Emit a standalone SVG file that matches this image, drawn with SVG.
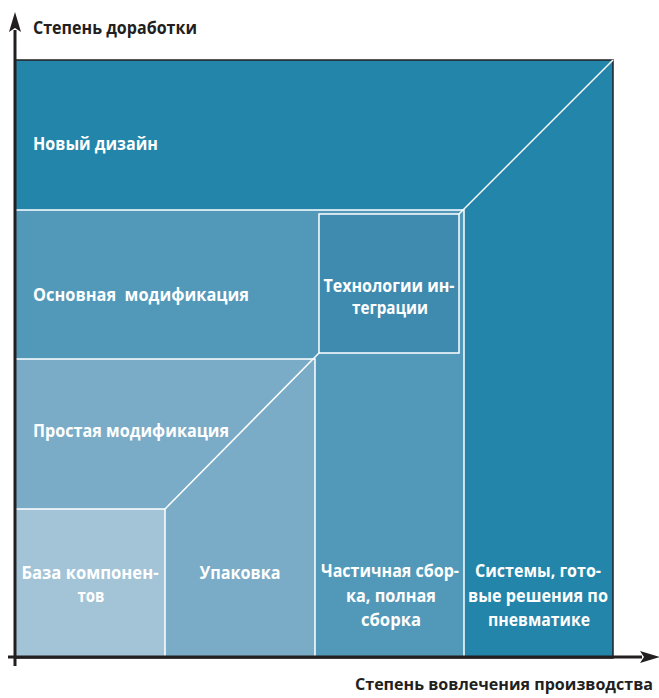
<svg xmlns="http://www.w3.org/2000/svg" width="659" height="698" viewBox="0 0 659 698">
<style>
.lbl{font-family:"Open Sans","Noto Sans","Liberation Sans",sans-serif;font-weight:bold;font-size:17px;fill:#ffffff}
.ax{font-family:"Open Sans","Noto Sans","Liberation Sans",sans-serif;font-weight:bold;font-size:17px;fill:#231f20}
.wl{stroke:#ffffff;stroke-width:1.5;fill:none}
.axis{stroke:#231f20;stroke-width:3;fill:none}
</style>
<defs>
<marker id="arr" viewBox="0 0 20 12" refX="2" refY="6" markerWidth="20" markerHeight="12" markerUnits="userSpaceOnUse" orient="auto">
<path d="M20,6 L0,0 L4,6 L0,12 Z" fill="#231f20"/>
</marker>
</defs>
<rect width="659" height="698" fill="#ffffff"/>

<g id="node-new-design">
<rect x="15" y="60" width="598" height="598" fill="#2385a9" stroke="#231f20" stroke-width="1.5"/>
<text class="lbl" x="33" y="150" textLength="125" lengthAdjust="spacingAndGlyphs">Новый дизайн</text>
</g>

<g id="node-systems">
<text class="lbl" x="538" y="577" text-anchor="middle" textLength="126" lengthAdjust="spacingAndGlyphs">Системы, гото-</text>
<text class="lbl" x="538" y="602" text-anchor="middle" textLength="140" lengthAdjust="spacingAndGlyphs">вые решения по</text>
<text class="lbl" x="539" y="626" text-anchor="middle" textLength="102" lengthAdjust="spacingAndGlyphs">пневматике</text>
</g>

<g id="node-main-mod">
<rect x="15" y="210" width="449" height="448" fill="#5299b9"/>
<text class="lbl" x="33" y="301" textLength="216" lengthAdjust="spacingAndGlyphs">Основная&#160; модификация</text>
</g>

<g id="node-integration">
<rect x="319" y="214" width="140" height="139" fill="#3f8bb0" stroke="#ffffff" stroke-width="1.5"/>
<text class="lbl" x="389" y="292" text-anchor="middle" textLength="131" lengthAdjust="spacingAndGlyphs">Технологии ин-</text>
<text class="lbl" x="390" y="314" text-anchor="middle" textLength="76" lengthAdjust="spacingAndGlyphs">теграции</text>
</g>

<g id="node-partial">
<text class="lbl" x="390" y="577" text-anchor="middle" textLength="138" lengthAdjust="spacingAndGlyphs">Частичная сбор-</text>
<text class="lbl" x="391" y="602" text-anchor="middle" textLength="90" lengthAdjust="spacingAndGlyphs">ка, полная</text>
<text class="lbl" x="391" y="626" text-anchor="middle" textLength="60" lengthAdjust="spacingAndGlyphs">сборка</text>
</g>

<g id="node-simple-mod">
<rect x="15" y="359" width="300" height="299" fill="#7aacc8"/>
<text class="lbl" x="33" y="437" textLength="196" lengthAdjust="spacingAndGlyphs">Простая модификация</text>
</g>

<g id="node-packaging">
<text class="lbl" x="240" y="579" text-anchor="middle" textLength="81" lengthAdjust="spacingAndGlyphs">Упаковка</text>
</g>

<g id="node-components">
<rect x="15" y="509" width="150" height="149" fill="#a3c4d7"/>
<text class="lbl" x="90" y="579" text-anchor="middle" textLength="137" lengthAdjust="spacingAndGlyphs">База компонен-</text>
<text class="lbl" x="91" y="602" text-anchor="middle" textLength="27" lengthAdjust="spacingAndGlyphs">тов</text>
</g>

<g id="dividers">
<path class="wl" d="M15,210 H464 V658"/>
<path class="wl" d="M613,60 L459,214"/>
<path class="wl" d="M15,359 H315 V658"/>
<path class="wl" d="M319,353 L165,509"/>
<path class="wl" d="M15,509 H165 V658"/>
</g>

<g id="connectors">
<path class="axis" d="M15,666 V30" marker-end="url(#arr)"/>
<path class="axis" d="M8,657 H642" marker-end="url(#arr)"/>
</g>

<g id="axis-labels">
<text class="ax" x="33" y="34" textLength="164" lengthAdjust="spacingAndGlyphs">Степень доработки</text>
<text class="ax" x="355" y="690" style="font-size:16px" textLength="298" lengthAdjust="spacingAndGlyphs">Степень вовлечения производства</text>
</g>
</svg>
